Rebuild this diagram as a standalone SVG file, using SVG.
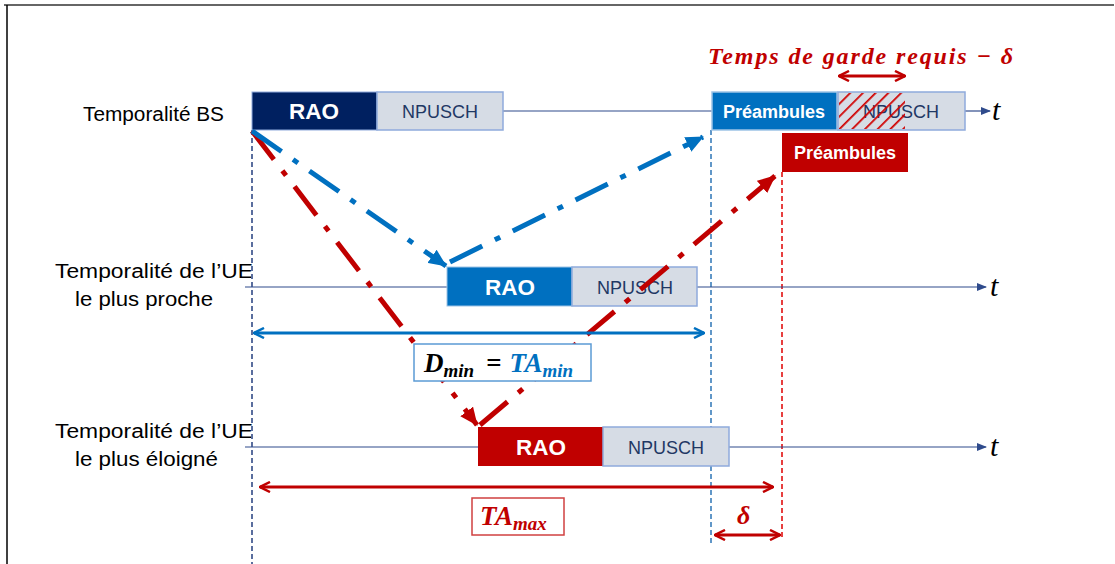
<svg xmlns="http://www.w3.org/2000/svg" width="1115" height="564" viewBox="0 0 1115 564">
<style>
.lbl{font-family:"Liberation Sans",Arial,sans-serif;font-size:20px;fill:#000}
.rao{font-family:"Liberation Sans",Arial,sans-serif;font-size:22.5px;font-weight:bold;fill:#fff}
.np{font-family:"Liberation Sans",Arial,sans-serif;font-size:18px;fill:#1F3864}
.pre{font-family:"Liberation Sans",Arial,sans-serif;font-size:18px;font-weight:bold;fill:#fff}
.math{font-family:"Liberation Serif","DejaVu Serif",serif;font-style:italic;font-weight:bold}
.tt{font-family:"Liberation Serif","DejaVu Serif",serif;font-style:italic;font-size:30px;fill:#000}
.npbox{fill:#D6DCE5;stroke:#8FAADC;stroke-width:1.5}
.axis{stroke:#2F4B8C;stroke-width:1.2;fill:none}
.bdd{stroke:#0070C0;stroke-width:5;fill:none;stroke-dasharray:36 14 6 14}
.rdd{stroke:#C00000;stroke-width:5;fill:none;stroke-dasharray:36 14 6 14}
</style>
<defs>
<marker id="ax" viewBox="0 0 10 10" refX="9" refY="5" markerWidth="10" markerHeight="10" markerUnits="userSpaceOnUse" orient="auto"><path d="M0,1 L10,5 L0,9 Z" fill="#2F4B8C"/></marker>
<marker id="bt" viewBox="0 0 18 16" refX="17" refY="8" markerWidth="18" markerHeight="16" markerUnits="userSpaceOnUse" orient="auto"><path d="M0,0 L18,8 L0,16 Z" fill="#0070C0"/></marker>
<marker id="rt" viewBox="0 0 18 16" refX="17" refY="8" markerWidth="18" markerHeight="16" markerUnits="userSpaceOnUse" orient="auto"><path d="M0,0 L18,8 L0,16 Z" fill="#C00000"/></marker>
<marker id="bv" viewBox="0 0 12 12" refX="11" refY="6" markerWidth="12" markerHeight="12" markerUnits="userSpaceOnUse" orient="auto-start-reverse"><path d="M1,1 L11,6 L1,11" fill="none" stroke="#0070C0" stroke-width="2.5"/></marker>
<marker id="rv" viewBox="0 0 12 12" refX="11" refY="6" markerWidth="12" markerHeight="12" markerUnits="userSpaceOnUse" orient="auto-start-reverse"><path d="M1,1 L11,6 L1,11" fill="none" stroke="#C00000" stroke-width="2.5"/></marker>
<pattern id="hatch" patternUnits="userSpaceOnUse" width="9" height="9" patternTransform="rotate(45)"><line x1="0" y1="0" x2="0" y2="9" stroke="#D00000" stroke-width="3.5"/></pattern>
</defs>
<rect width="1115" height="564" fill="#fff"/>
<line x1="4" y1="5" x2="1114" y2="5" stroke="#666" stroke-width="2"/>
<line x1="7" y1="5" x2="7" y2="564" stroke="#000" stroke-width="1.5"/>

<g id="labels">
<text class="lbl" x="83" y="121" textLength="141" lengthAdjust="spacingAndGlyphs">Temporalité BS</text>
<text class="lbl" x="55" y="278" textLength="198" lengthAdjust="spacingAndGlyphs">Temporalité de l’UE</text>
<text class="lbl" x="75" y="306" textLength="138" lengthAdjust="spacingAndGlyphs">le plus proche</text>
<text class="lbl" x="55" y="438" textLength="198" lengthAdjust="spacingAndGlyphs">Temporalité de l’UE</text>
<text class="lbl" x="75" y="466" textLength="143" lengthAdjust="spacingAndGlyphs">le plus éloigné</text>
</g>

<g id="guides">
<line x1="252" y1="130" x2="252" y2="564" stroke="#5A6E9E" stroke-width="2" stroke-dasharray="5 3"/>
<line x1="711" y1="130" x2="711" y2="546" stroke="#2E75B6" stroke-width="1.5" stroke-dasharray="5 3"/>
<line x1="782" y1="172" x2="782" y2="540" stroke="#E00000" stroke-width="1.5" stroke-dasharray="5 3"/>
</g>

<g id="bs-row">
<line class="axis" x1="503" y1="111" x2="712" y2="111"/>
<line class="axis" x1="965" y1="111" x2="990" y2="111" marker-end="url(#ax)"/>
<rect x="252" y="92" width="125" height="38" fill="#002060" stroke="#8FAADC" stroke-width="1"/>
<text class="rao" x="314" y="119" text-anchor="middle">RAO</text>
<rect class="npbox" x="377" y="92" width="126" height="38"/>
<text class="np" x="440" y="118" text-anchor="middle">NPUSCH</text>
<rect x="712" y="92" width="125" height="38" fill="#0070C0" stroke="#9DC3E6" stroke-width="1.5"/>
<text class="pre" x="774" y="118" text-anchor="middle">Préambules</text>
<rect class="npbox" x="838" y="92" width="127" height="38"/>
<text class="np" x="901" y="118" text-anchor="middle">NPUSCH</text>
<rect x="839" y="93" width="66" height="36" fill="url(#hatch)"/>
<text class="tt" x="992" y="120">t</text>
</g>

<g id="red-preamble">
<rect x="782" y="133" width="126" height="39" fill="#C00000"/>
<text class="pre" x="845" y="159" text-anchor="middle">Préambules</text>
</g>

<g id="proche-row">
<line class="axis" x1="245" y1="287" x2="447" y2="287"/>
<line class="axis" x1="697" y1="287" x2="986" y2="287" marker-end="url(#ax)"/>
<rect x="447" y="267" width="125" height="39" fill="#0070C0" stroke="#9DC3E6" stroke-width="1"/>
<text class="rao" x="510" y="295" text-anchor="middle">RAO</text>
<rect class="npbox" x="572" y="267" width="125" height="39"/>
<text class="np" x="635" y="294" text-anchor="middle">NPUSCH</text>
<text class="tt" x="990" y="296">t</text>
</g>

<g id="eloigne-row">
<line class="axis" x1="245" y1="447" x2="478" y2="447"/>
<line class="axis" x1="729" y1="447" x2="986" y2="447" marker-end="url(#ax)"/>
<rect x="478" y="427" width="125" height="39" fill="#C00000"/>
<text class="rao" x="541" y="455" text-anchor="middle">RAO</text>
<rect class="npbox" x="603" y="427" width="126" height="39"/>
<text class="np" x="666" y="454" text-anchor="middle">NPUSCH</text>
<text class="tt" x="990" y="456">t</text>
</g>

<g id="connectors">
<line class="rdd" x1="252" y1="131" x2="477" y2="425" marker-end="url(#rt)"/>
<line class="rdd" x1="480" y1="425" x2="775" y2="176" marker-end="url(#rt)"/>
<line class="bdd" x1="252" y1="131" x2="446" y2="266" marker-end="url(#bt)"/>
<line class="bdd" x1="450" y1="262" x2="703" y2="137" marker-end="url(#bt)"/>
<line x1="254" y1="333" x2="704" y2="333" stroke="#0070C0" stroke-width="3" marker-start="url(#bv)" marker-end="url(#bv)"/>
<line x1="260" y1="487" x2="773" y2="487" stroke="#C00000" stroke-width="3" marker-start="url(#rv)" marker-end="url(#rv)"/>
<line x1="715" y1="535" x2="780" y2="535" stroke="#C00000" stroke-width="3" marker-start="url(#rv)" marker-end="url(#rv)"/>
<line x1="839" y1="76" x2="905" y2="76" stroke="#C00000" stroke-width="3" marker-start="url(#rv)" marker-end="url(#rv)"/>
</g>

<g id="dmin">
<rect x="414" y="344" width="177" height="37" fill="#fff" stroke="#5B9BD5" stroke-width="1.5"/>
<text class="math" x="424" y="372" font-size="27" fill="#000">D<tspan font-size="19" dy="5">min</tspan><tspan dx="12" dy="-5" font-style="normal">=</tspan><tspan dx="8" fill="#0070C0">TA</tspan><tspan font-size="19" dy="5" fill="#0070C0">min</tspan></text>
</g>

<g id="tamax">
<rect x="472" y="498" width="92" height="37" fill="#fff" stroke="#D04040" stroke-width="1.5"/>
<text class="math" x="480" y="525" font-size="27" fill="#C00000">TA<tspan font-size="19" dy="5">max</tspan></text>
</g>

<g id="delta">
<text class="math" x="737" y="524" font-size="26" fill="#C00000" font-weight="normal">δ</text>
</g>

<g id="garde">
<text class="math" x="708" y="64" font-size="24" fill="#C00000" textLength="305" lengthAdjust="spacing">Temps de garde requis − δ</text>
</g>
</svg>
